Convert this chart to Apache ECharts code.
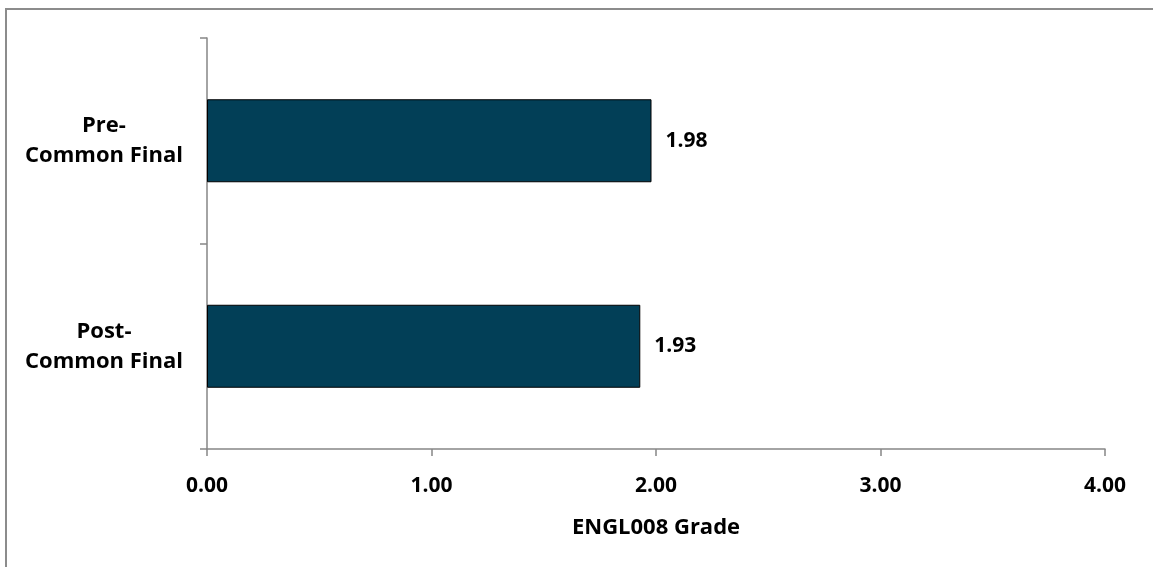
<!DOCTYPE html>
<html>
<head>
<meta charset="utf-8">
<script src="https://cdn.jsdelivr.net/npm/echarts@6/dist/echarts.min.js"></script>
<style>
  html, body { margin: 0; padding: 0; background: #fff; }
  #chart { width: 1153px; height: 567px; }
</style>
</head>
<body>
<div id="chart"></div>
<script>
// chart data
const categories = ['Pre-\nCommon Final', 'Post-\nCommon Final']
const grades = [1.98, 1.93]
const xTicks = [0, 1, 2, 3, 4]
const axisName = 'ENGL008 Grade'

const fontFamily = '"Open Sans", "DejaVu Sans", sans-serif'
const axisGray = '#868686'

const chart = echarts.init(document.getElementById('chart'), null, { renderer: 'canvas' })

chart.setOption({
  animation: false,
  backgroundColor: '#fff',
  // outer frame of the chart area (cut off at right and bottom)
  graphic: [
    {
      type: 'rect',
      shape: { x: 6, y: 9, width: 1300, height: 700 },
      style: { fill: 'none', stroke: '#8c8c8c', lineWidth: 2 },
      silent: true
    }
  ],
  grid: {
    left: 207,
    right: 48,
    top: 38,
    bottom: 118
  },
  xAxis: {
    type: 'value',
    min: xTicks[0],
    max: xTicks[xTicks.length - 1],
    interval: 1,
    name: axisName,
    nameLocation: 'middle',
    nameGap: 68,
    nameTextStyle: {
      fontFamily: fontFamily,
      fontWeight: 'bold',
      fontSize: 22,
      color: '#000'
    },
    axisLine: { show: true, lineStyle: { color: axisGray, width: 1.5 } },
    axisTick: { show: true, length: 7, lineStyle: { color: axisGray, width: 1.5 } },
    splitLine: { show: false },
    axisLabel: {
      margin: 27,
      fontFamily: fontFamily,
      fontWeight: 'bold',
      fontSize: 21,
      color: '#000',
      formatter: v => v.toFixed(2)
    }
  },
  yAxis: {
    type: 'category',
    data: categories,
    inverse: true,
    axisLine: { show: true, lineStyle: { color: axisGray, width: 1.5 } },
    axisTick: { show: true, length: 7, lineStyle: { color: axisGray, width: 1.5 } },
    axisLabel: {
      margin: 103,
      align: 'center',
      fontFamily: fontFamily,
      fontWeight: 'bold',
      fontSize: 22,
      lineHeight: 30,
      color: '#000'
    }
  },
  series: [
    {
      type: 'bar',
      data: grades,
      barWidth: 83,
      itemStyle: {
        color: '#023f57',
        borderColor: '#000',
        borderWidth: 1
      },
      label: {
        show: true,
        position: 'right',
        distance: 14,
        fontFamily: fontFamily,
        fontWeight: 'bold',
        fontSize: 21,
        color: '#000',
        formatter: p => p.value.toFixed(2)
      }
    }
  ]
})
</script>
</body>
</html>
